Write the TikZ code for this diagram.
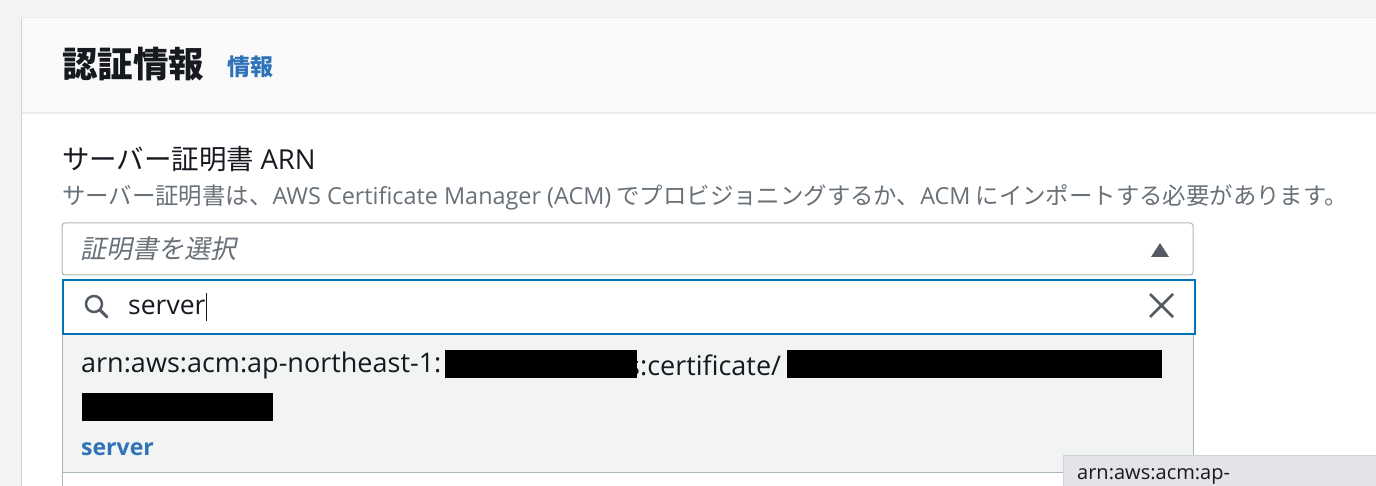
\documentclass[tikz,border=0pt]{standalone}
\usepackage{fontspec}
\setmainfont{Noto Sans CJK JP}
\newfontfamily\latinf{Open Sans}
\definecolor{bgout}{HTML}{F2F3F3}
\definecolor{hdr}{HTML}{FAFAFA}
\definecolor{linec}{HTML}{EAEDED}
\definecolor{boxb}{HTML}{AAB7B8}
\definecolor{blue}{HTML}{0073BB}
\definecolor{link}{HTML}{2E73B8}
\definecolor{grayt}{HTML}{687078}
\definecolor{dark}{HTML}{16191F}
\definecolor{icon}{HTML}{545B64}
\definecolor{opt}{HTML}{F2F3F3}
\definecolor{tip}{HTML}{E3E3E8}
\tikzset{txt/.style={anchor=west,inner sep=0pt,text=dark},
 redact/.style={fill=black,draw=none}}
\begin{document}
\begin{tikzpicture}[x=1pt,y=-1pt]
\useasboundingbox (0,0) rectangle (1376,486);
\fill[bgout] (0,0) rectangle (1376,486);
\fill[white] (21,18) rectangle (1376,486);
\fill[hdr] (21,18) rectangle (1376,113);
\draw[linec,line width=1.5] (21,113) -- (1376,113);
\draw[boxb!60,line width=1] (21,18) -- (21,486);
\draw[linec,line width=1] (21,18) -- (1376,18);
\node[txt,font=\fontsize{35.5}{37}\selectfont\bfseries] (title) at (62,64) {認証情報};
\node[txt,text=link,font=\fontsize{23}{25}\selectfont\bfseries] (info) at (227,67) {情報};
\node[txt,font=\fontsize{27.5}{29}\selectfont] (label) at (62,159) {サーバー証明書 {\latinf ARN}};
\node[txt,text=grayt,font=\fontsize{23.4}{25}\selectfont] (desc) at (62,197) {サーバー証明書は、{\latinf AWS Certificate Manager (ACM)} でプロビジョニングするか、{\latinf ACM} にインポートする必要があります。};
% select box
\draw[boxb,line width=1,rounded corners=3,fill=white] (62,223) rectangle (1193,275);
\node[txt,text=grayt,font=\fontsize{26}{28}\selectfont] (ph) at (80,249) {\addfontfeature{FakeSlant=0.2}証明書を選択};
\fill[icon] (1151,257) -- (1169,257) -- (1160,243) -- cycle;
% option box
\draw[boxb,line width=1,fill=opt] (62,334) rectangle (1193,472);
\draw[boxb,line width=1] (62,472) -- (62,486);
% search box
\draw[blue,line width=2.5,fill=white] (63,280) rectangle (1195,334);
\draw[icon,line width=2.5] (94,304) circle (8);
\draw[icon,line width=3,line cap=round] (100,310) -- (107,317);
\node[txt,font=\latinf\fontsize{26.5}{28}\selectfont] (q) at (128,307) {server};
\draw[dark,line width=1] (q.east) ++(1,-14) -- ++(0,28);
\draw[icon,line width=2.5] (1150,294) -- (1173,317) (1173,294) -- (1150,317);
% option text
\node[txt,font=\latinf\fontsize{27}{29}\selectfont] (arn1) at (81,365) {arn:aws:acm:ap-northeast-1:};
\node[txt,font=\latinf\fontsize{27}{29}\selectfont] (arn2) at (627,365) {s:certificate/};
\fill[redact] (445,350) rectangle (637,378);
\fill[redact] (787,350) rectangle (1162,378);
\fill[redact] (82,393) rectangle (273,421);
\node[txt,text=link,font=\latinf\fontsize{23}{25}\selectfont\bfseries] (srv) at (81,449) {server};
% tooltip
\draw[boxb!60,fill=tip] (1063,455) rectangle (1380,490);
\node[txt,font=\latinf\fontsize{20}{22}\selectfont] (tt) at (1077,476) {arn:aws:acm:ap-};
\end{tikzpicture}
\end{document}
